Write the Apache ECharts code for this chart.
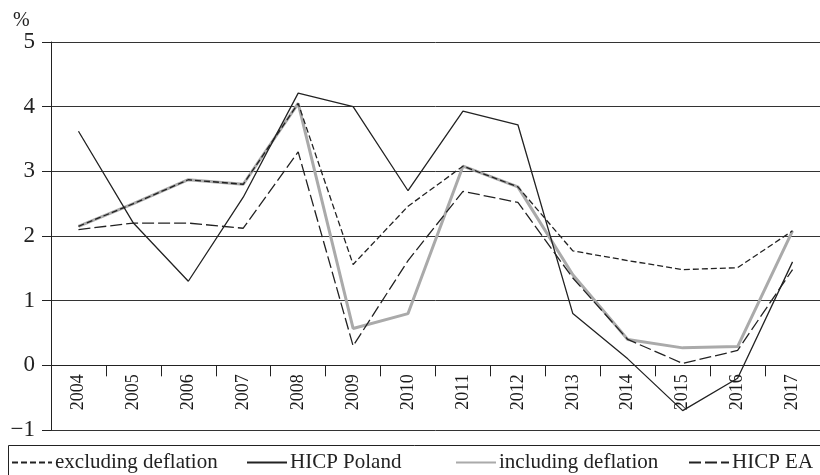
<!DOCTYPE html>
<html lang="en">
<head>
<meta charset="utf-8">
<script src="https://cdn.jsdelivr.net/npm/echarts@6/dist/echarts.min.js"></script>
<style type="text/css">
	html, body { margin: 0; padding: 0; background: #fff; }
	#chart { width: 820px; height: 475px; }
</style>
</head>
<body>
<div id="chart"></div>
<script type="text/javascript">
	// data
	var years = ['2004','2005','2006','2007','2008','2009','2010','2011','2012','2013','2014','2015','2016','2017'];
	var excluding = [2.15, 2.5, 2.87, 2.8, 4.05, 1.56, 2.46, 3.08, 2.76, 1.77, 1.62, 1.48, 1.51, 2.08];
	var hicpPoland = [3.62, 2.2, 1.3, 2.6, 4.21, 4.0, 2.7, 3.93, 3.72, 0.8, 0.1, -0.7, -0.2, 1.6];
	var including = [2.15, 2.5, 2.87, 2.8, 4.05, 0.57, 0.8, 3.08, 2.76, 1.4, 0.4, 0.27, 0.29, 2.08];
	var hicpEA = [2.1, 2.2, 2.2, 2.12, 3.3, 0.3, 1.62, 2.69, 2.52, 1.35, 0.4, 0.03, 0.23, 1.48];
	var yTicks = [-1, 0, 1, 2, 3, 4, 5];
	var legendNames = ['excluding deflation', 'HICP Poland', 'including deflation', 'HICP EA'];

	var serif = 'Liberation Serif';
	var gridTop = 42, gridBottom = 45;
	var unitPx = (475 - gridTop - gridBottom) / (yTicks[yTicks.length - 1] - yTicks[0]);

	// one legend per item so the gaps can follow the picture
	var legendLeft = [11, 246, 455, 688];
	var legends = legendNames.map(function (name, i) {
		return {
			data: [name],
			left: legendLeft[i],
			top: 452,
			padding: 0,
			itemWidth: 40,
			itemHeight: 12,
			itemGap: 0,
			itemStyle: { opacity: 0, borderWidth: 0 },
			textStyle: { fontFamily: serif, fontSize: 21, color: '#222', padding: [0, 0, 0, -2] }
		};
	});

	var chart = echarts.init(document.getElementById('chart'));

	chart.setOption({
		animation: false,
		title: {
			text: '%',
			left: 8,
			top: 6,
			textStyle: { fontFamily: serif, fontSize: 20, fontWeight: 'normal', color: '#222' }
		},
		graphic: [{
			type: 'rect',
			shape: { x: 8.5, y: 445.5, width: 830, height: 60 },
			style: { fill: 'none', stroke: '#222', lineWidth: 1 }
		}],
		grid: { left: 51, right: 0, top: gridTop, bottom: gridBottom },
		legend: legends,
		xAxis: {
			type: 'category',
			data: years,
			offset: -unitPx,
			axisLine: { onZero: false, lineStyle: { color: '#222', width: 1 } },
			axisTick: { show: true, length: 11, lineStyle: { color: '#222', width: 1 } },
			axisLabel: {
				rotate: 90,
				margin: 9,
				fontFamily: serif,
				fontSize: 18,
				color: '#1a1a1a'
			}
		},
		yAxis: {
			type: 'value',
			min: -1,
			max: 5,
			interval: 1,
			axisLine: { show: true, lineStyle: { color: '#222', width: 1 } },
			axisTick: { show: true, length: 9, lineStyle: { color: '#222' } },
			splitLine: { lineStyle: { color: '#333', width: 1 } },
			axisLabel: {
				margin: 16,
				fontFamily: serif,
				fontSize: 23,
				color: '#222',
				formatter: function (v) {
					return yTicks.indexOf(v) >= 0 ? String(v).replace('-', '\u2212') : '';
				}
			}
		},
		series: [{
			name: 'including deflation',
			type: 'line',
			z: 1,
			symbol: 'none',
			data: including,
			itemStyle: { color: '#aaaaaa' },
			lineStyle: { color: '#aaaaaa', width: 3 }
		}, {
			name: 'excluding deflation',
			type: 'line',
			z: 3,
			symbol: 'none',
			data: excluding,
			itemStyle: { color: '#222' },
			lineStyle: { color: '#222', width: 1.3, type: [6, 3] }
		}, {
			name: 'HICP Poland',
			type: 'line',
			z: 3,
			symbol: 'none',
			data: hicpPoland,
			itemStyle: { color: '#222' },
			lineStyle: { color: '#222', width: 1.3 }
		}, {
			name: 'HICP EA',
			type: 'line',
			z: 3,
			symbol: 'none',
			data: hicpEA,
			itemStyle: { color: '#222' },
			lineStyle: { color: '#222', width: 1.3, type: [12, 4] }
		}]
	});
</script>
</body>
</html>
